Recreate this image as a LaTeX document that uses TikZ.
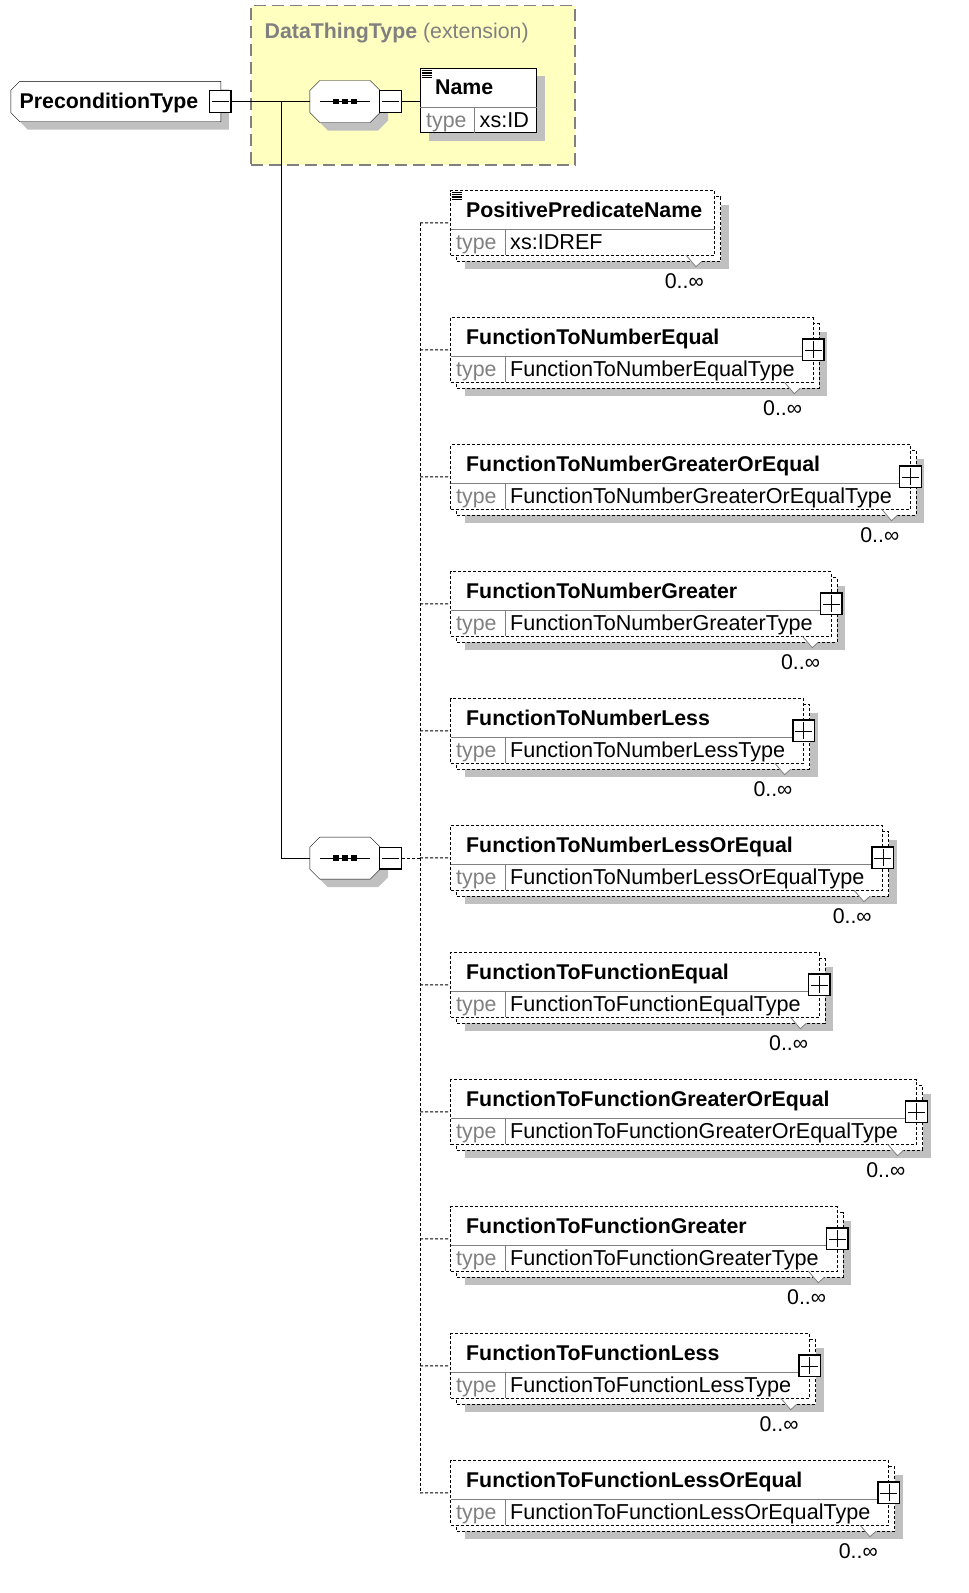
\documentclass[tikz,border=0pt]{standalone}
\usepackage{fontspec}
\setmainfont{Liberation Sans}
\usetikzlibrary{fit,calc}
\definecolor{shadowgray}{HTML}{C0C0C0}
\definecolor{linegray}{HTML}{808080}
\definecolor{extyellow}{HTML}{FFFFC0}
\newdimen\dimA \newdimen\dimB
\pgfdeclarelayer{lzero}\pgfdeclarelayer{lone}\pgfdeclarelayer{ltwo}\pgfdeclarelayer{lthree}
\pgfsetlayers{lzero,lone,ltwo,lthree,main}
\newcommand\bigfont{\fontsize{21.33pt}{24pt}\selectfont}
\newcommand\typefont{\fontsize{21.6pt}{24pt}\selectfont}
% octagon around a node: #1 node, #2 style, #3 dx, #4 dy (down)
\newcommand\octo[4]{%
  \path[#2] ($(#1.north west)+(10+#3,-#4)$) -- ($(#1.north east)+(-10+#3,-#4)$) -- ($(#1.north east)+(#3,-10-#4)$) -- ($(#1.south east)+(#3,10-#4)$) -- ($(#1.south east)+(-10+#3,-#4)$) -- ($(#1.south west)+(10+#3,-#4)$) -- ($(#1.south west)+(#3,10-#4)$) -- ($(#1.north west)+(#3,-10-#4)$) -- cycle;}
\newcommand\rootshape[4]{%
  \path[#2] ($(#1.north west)+(9+#3,-#4)$) -- ($(#1.north east)+(#3,-#4)$) -- ($(#1.south east)+(#3,-#4)$) -- ($(#1.south west)+(9+#3,-#4)$) -- ($(#1.south west)+(#3,9-#4)$) -- ($(#1.north west)+(#3,-9-#4)$) -- cycle;}
\begin{document}
\begin{tikzpicture}[x=1pt,y=1pt,line width=1pt,
  nametext/.style={inner sep=0pt, anchor=base west, font=\bigfont\bfseries},
  plaintext/.style={inner sep=0pt, anchor=base west, font=\typefont},
  typelbl/.style={inner sep=0pt, anchor=base west, font=\bigfont, text=linegray},
  cardtext/.style={inner sep=0pt, anchor=base east, font=\bigfont},
  dbox/.style={draw=black, fill=white, dash pattern=on 3pt off 2pt, line width=1pt, inner sep=0pt},
  sbox/.style={draw=black, fill=white, line width=1pt, inner sep=0pt},
  togglebox/.style={draw=black, fill=white, line width=1.4pt, minimum width=21.5pt, minimum height=21.5pt, inner sep=0pt},
  comp/.style={minimum width=70pt, minimum height=41.6pt, inner sep=0pt},
  conn/.style={line width=1pt},
  dconn/.style={line width=1pt, dash pattern=on 3pt off 2pt},
  divider/.style={draw=linegray, line width=1pt},
  extbox/.style={draw=linegray, fill=extyellow, line width=1.5pt, dash pattern=on 12pt off 6pt, inner sep=0pt}
]
\useasboundingbox (0,0) rectangle (969,-1593);

% ---------- extension area ----------
\begin{pgfonlayer}{lzero}
\node[extbox, fit={(251,-5.7) (575,-165)}] (ext) {};
\end{pgfonlayer}
\node[nametext, text=linegray] (extt) at (264.5,-38.3) {DataThingType \mdseries(extension)};

% ---------- root ----------
\node[minimum width=209.7pt, minimum height=40pt, inner sep=0pt] (root) at (115.85,-101.5) {};
\rootshape{root}{fill=shadowgray}{8}{8}
\rootshape{root}{draw=black,fill=white}{0}{0}
\node[nametext] (roott) at (19.5,-108.6) {PreconditionType};
\node[togglebox] (rootm) at (220.2,-101.5) {};
\draw ([xshift=3pt]rootm.west) -- ([xshift=-3pt]rootm.east);

% ---------- compositor 1 ----------
\node[comp] (c1) at (345,-101.5) {};
\octo{c1}{fill=shadowgray}{8}{8}
\octo{c1}{draw=black,fill=white}{0}{0}
\draw ([xshift=-25pt]c1.center) -- ([xshift=25pt]c1.center);
\foreach \dx in {-9,0,9}{\fill ([xshift=\dx pt-2.75pt,yshift=-2.75pt]c1.center) rectangle ++(5.5,5.5);}
\node[togglebox] (c1m) at (390.5,-101.5) {};
\draw ([xshift=3pt]c1m.west) -- ([xshift=-3pt]c1m.east);

% ---------- compositor 2 ----------
\node[comp] (c2) at (345,-858.1) {};
\octo{c2}{fill=shadowgray}{8}{8}
\octo{c2}{draw=black,fill=white}{0}{0}
\draw ([xshift=-25pt]c2.center) -- ([xshift=25pt]c2.center);
\foreach \dx in {-9,0,9}{\fill ([xshift=\dx pt-2.75pt,yshift=-2.75pt]c2.center) rectangle ++(5.5,5.5);}
\node[togglebox] (c2m) at (390.5,-858.1) {};
\draw ([xshift=3pt]c2m.west) -- ([xshift=-3pt]c2m.east);

% ---------- Name element ----------
\fill[shadowgray] (428.5,-76.3) rectangle (545.2,-140.7);
\node[sbox, fit={(420,-68.3) (536.7,-132.7)}] (namebox) {};
\draw[divider] (420,-107.3) -- (536.7,-107.3);
\draw[divider] (474,-107.3) -- (474,-132.7);
\foreach \k in {0,...,4}{\draw[line width=0.8pt] (421.5,-70.3-1.7*\k) -- (431.5,-70.3-1.7*\k);}
\node[nametext] (namet) at (435,-94.3) {Name};
\node[typelbl] (namel) at (426,-127.2) {type};
\node[plaintext] (namev) at (479.5,-127.2) {xs:ID};

% ---------- top connectors ----------
\coordinate (jt) at (281,-101.5);
\draw[conn] (rootm.east) -- (c1.west);
\draw[conn] (jt) |- (c2.west);
\draw[conn] (c1m.east) -- (c1m.east -| namebox.west);

% ---------- children ----------
\foreach \i/\nm/\tp/\pad/\plus in {
 0/PositivePredicateName/xs:IDREF/12.6/0,
 1/FunctionToNumberEqual/FunctionToNumberEqualType/18.3/1,
 2/FunctionToNumberGreaterOrEqual/FunctionToNumberGreaterOrEqualType/18.3/1,
 3/FunctionToNumberGreater/FunctionToNumberGreaterType/18.3/1,
 4/FunctionToNumberLess/FunctionToNumberLessType/18.3/1,
 5/FunctionToNumberLessOrEqual/FunctionToNumberLessOrEqualType/18.3/1,
 6/FunctionToFunctionEqual/FunctionToFunctionEqualType/18.3/1,
 7/FunctionToFunctionGreaterOrEqual/FunctionToFunctionGreaterOrEqualType/18.3/1,
 8/FunctionToFunctionGreater/FunctionToFunctionGreaterType/18.3/1,
 9/FunctionToFunctionLess/FunctionToFunctionLessType/18.3/1,
 10/FunctionToFunctionLessOrEqual/FunctionToFunctionLessOrEqualType/18.3/1}{
  \pgfmathsetmacro\T{190.7+127*\i}
  \pgfmathsetmacro\B{\T+64.3}
  \pgfmathsetmacro\M{\T+32.2}
  \pgfmathsetmacro\D{\T+38.6}
  \node[nametext] (n\i) at (466,-\T-27) {\nm};
  \node[typelbl] (tl\i) at (456,-\B+5.3) {type};
  \node[plaintext] (tv\i) at (510,-\B+5.3) {\tp};
  \pgfextractx{\dimA}{\pgfpointanchor{tv\i}{east}}
  \pgfextractx{\dimB}{\pgfpointanchor{n\i}{east}}
  \pgfmathsetmacro\R{max(\dimA,\dimB)+\pad}
  \begin{pgfonlayer}{lone}
    \fill[shadowgray] (464.7,-\T-14) rectangle (\R+14,-\B-14);
  \end{pgfonlayer}
  \begin{pgfonlayer}{ltwo}
    \draw[dbox] (456.7,-\T-6) rectangle (\R+6,-\B-6);
  \end{pgfonlayer}
  \begin{pgfonlayer}{lthree}
    \node[dbox, fit={(450.7,-\T) (\R,-\B)}] (b\i) {};
  \end{pgfonlayer}
  \draw[divider] (450.7,-\D) -- (\R,-\D);
  \draw[divider] (505,-\D) -- (505,-\B);
  % notch and cardinality
  \fill[white] (\R-24.5,-\B-6) -- (\R-19,-\B-11.7) -- (\R-13,-\B-6) -- cycle;
  \draw[linegray, line width=0.8pt] (\R-29,-\B) -- (\R-19,-\B-11.7) -- (\R-13,-\B-6.3);
  \node[cardtext] (card\i) at (\R-11,-\B-33) {0..∞};
  \ifnum\plus=1
    \node[togglebox] (p\i) at (\R,-\M) {};
    \draw ([xshift=3pt]p\i.west) -- ([xshift=-3pt]p\i.east);
    \draw ([yshift=-3pt]p\i.north) -- ([yshift=3pt]p\i.south);
  \else
    \foreach \k in {0,...,4}{\draw[line width=0.8pt] (451.5,-\T-2-1.7*\k) -- (461.5,-\T-2-1.7*\k);}
  \fi
  \coordinate (j\i) at (420,-\M);
  \draw[dconn] (j\i) -- (b\i.west);
}
\draw[dconn] (j0) -- (j10);
\draw[dconn] (c2m.east) -- (c2m.east -| j5);
\end{tikzpicture}
\end{document}
